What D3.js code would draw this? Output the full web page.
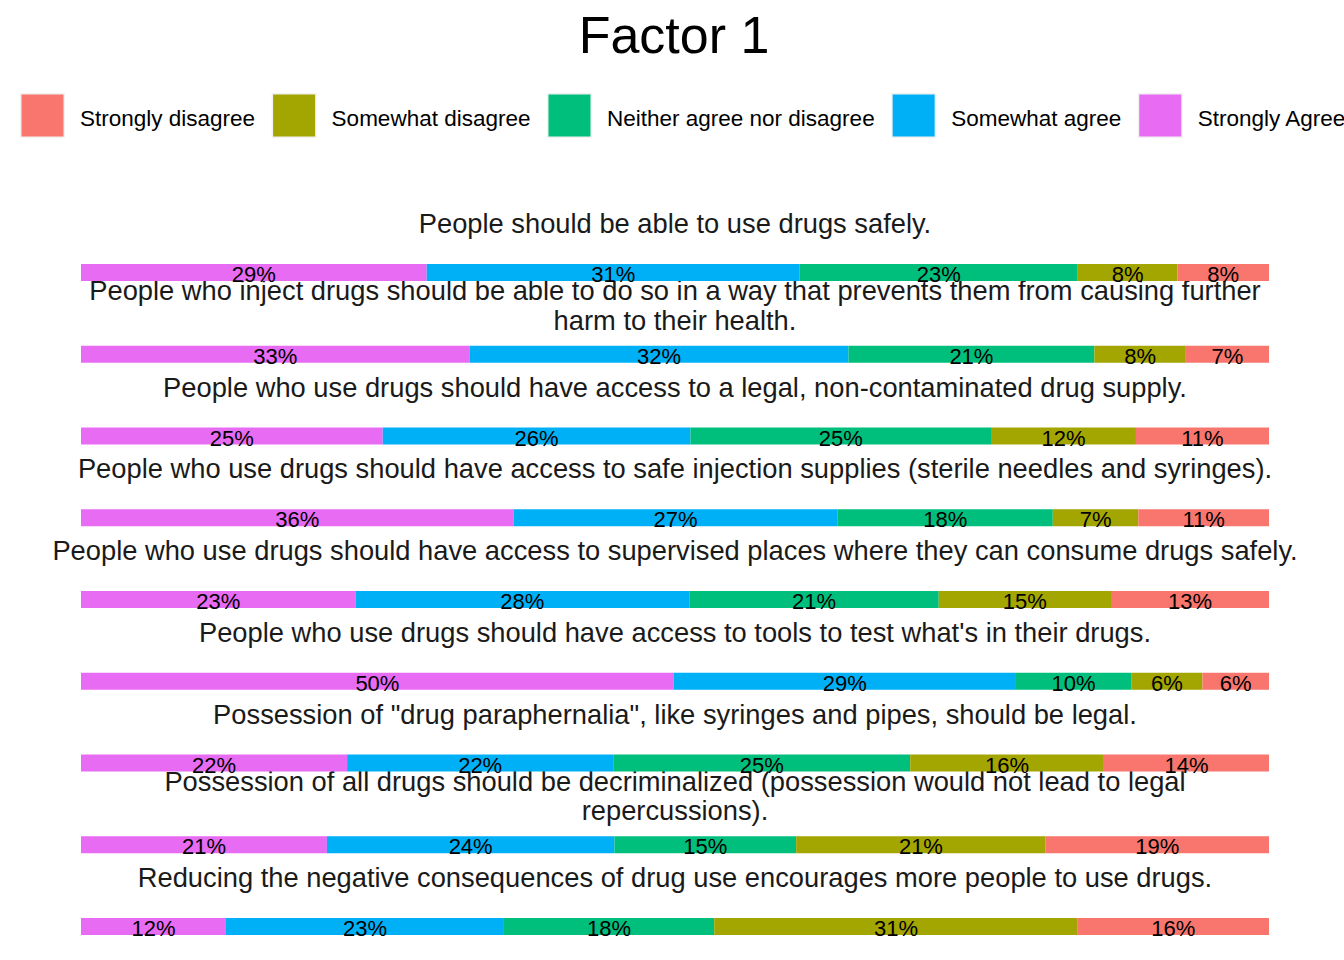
<!DOCTYPE html>
<html>
<head>
<meta charset="utf-8">
<script src="https://cdn.jsdelivr.net/npm/d3@7"></script>
<style>
  html, body { margin: 0; padding: 0; background: #ffffff; }
  svg { display: block; }
  text { font-family: "Liberation Sans", Arial, sans-serif; }
</style>
</head>
<body>
<svg id="chart" width="1344" height="960"></svg>
<script>
// ---------------- data ----------------
const chartTitle = "Factor 1";

const questions = [
  "People should be able to use drugs safely.",
  "People who inject drugs should be able to do so in a way that prevents them from causing further harm to their health.",
  "People who use drugs should have access to a legal, non-contaminated drug supply.",
  "People who use drugs should have access to safe injection supplies (sterile needles and syringes).",
  "People who use drugs should have access to supervised places where they can consume drugs safely.",
  "People who use drugs should have access to tools to test what's in their drugs.",
  "Possession of \"drug paraphernalia\", like syringes and pipes, should be legal.",
  "Possession of all drugs should be decriminalized (possession would not lead to legal repercussions).",
  "Reducing the negative consequences of drug use encourages more people to use drugs."
];

const levels = [
  "Strongly disagree",
  "Somewhat disagree",
  "Neither agree nor disagree",
  "Somewhat agree",
  "Strongly Agree"
];

const levelColors = ["#F8766D", "#A3A500", "#00BF7D", "#00B0F6", "#E76BF3"];

// percentages per response level, one value per question (same order as questions)
const stronglyAgree    = [29.1, 32.7, 25.4, 36.4, 23.1, 49.9, 22.4, 20.7, 12.2];
const somewhatAgree    = [31.4, 31.9, 25.9, 27.3, 28.1, 28.8, 22.4, 24.2, 23.4];
const neither          = [23.4, 20.7, 25.3, 18.1, 21.0,  9.7, 25.0, 15.3, 17.7];
const somewhatDisagree = [ 8.4,  7.7, 12.2,  7.2, 14.5,  6.0, 16.3, 21.0, 30.6];
const stronglyDisagree = [ 7.7,  7.0, 11.2, 11.0, 13.3,  5.6, 13.9, 18.8, 16.1];

// ---------------- build table ----------------
const table = questions.map((q, i) => ({
  question: q,
  "Strongly Agree": stronglyAgree[i],
  "Somewhat agree": somewhatAgree[i],
  "Neither agree nor disagree": neither[i],
  "Somewhat disagree": somewhatDisagree[i],
  "Strongly disagree": stronglyDisagree[i]
}));

// stacking order from left to right
const stackKeys = ["Strongly Agree", "Somewhat agree", "Neither agree nor disagree", "Somewhat disagree", "Strongly disagree"];
const color = d3.scaleOrdinal().domain(levels).range(levelColors);

const svg = d3.select("#chart");

// ---------------- scales ----------------
const x = d3.scaleLinear().domain([0, 100]).range([81, 1269]);
const y = d3.scaleBand().domain(questions).range([264, 264 + 81.75 * questions.length]).paddingInner(0).paddingOuter(0);
const barH = 17;

// ---------------- title ----------------
svg.append("text")
  .attr("x", 674).attr("y", 53)
  .attr("text-anchor", "middle")
  .attr("font-size", 52)
  .attr("fill", "#000")
  .text(chartTitle);

// ---------------- legend ----------------
const legend = svg.append("g").attr("class", "legend");
let lx = 20;
const keySize = 45;
levels.forEach((lv) => {
  const g = legend.append("g").attr("transform", `translate(${lx},93)`);
  g.append("rect").attr("x", 0).attr("y", 0).attr("width", keySize).attr("height", keySize).attr("fill", "#F2F2F2");
  g.append("rect").attr("x", 1.5).attr("y", 1.5).attr("width", keySize - 3).attr("height", keySize - 3).attr("fill", color(lv));
  const t = g.append("text")
    .attr("x", keySize + 15).attr("y", 33)
    .attr("font-size", 22.5)
    .attr("fill", "#000")
    .text(lv);
  const tw = t.node().getComputedTextLength();
  lx += keySize + 15 + tw + 16.5;
});

// ---------------- facet titles ----------------
function wrap(str, width) {
  const words = str.split(" ");
  const lines = [];
  let cur = "";
  words.forEach(w => {
    if (cur === "") cur = w;
    else if ((cur + " " + w).length <= width) cur += " " + w;
    else { lines.push(cur); cur = w; }
  });
  if (cur) lines.push(cur);
  return lines;
}

const lineH = 29.5;
const strips = svg.append("g").attr("class", "strips");
questions.forEach(q => {
  const lines = wrap(q, 99);
  const base = y(q) - 31;
  const t = strips.append("text")
    .attr("text-anchor", "middle")
    .attr("font-size", 27.3)
    .attr("fill", "#1A1A1A");
  lines.forEach((ln, i) => {
    t.append("tspan")
      .attr("x", 675)
      .attr("y", base + (i - (lines.length - 1) / 2) * lineH)
      .text(ln);
  });
});

// ---------------- bars ----------------
const series = d3.stack().keys(stackKeys)(table);

const barsG = svg.append("g").attr("class", "bars");
series.forEach(s => {
  barsG.selectAll(null)
    .data(s)
    .join("rect")
    .attr("x", d => x(d[0]))
    .attr("width", d => x(d[1]) - x(d[0]))
    .attr("y", d => y(d.data.question))
    .attr("height", barH)
    .attr("fill", color(s.key));
});

// ---------------- labels ----------------
const labG = svg.append("g").attr("class", "labels");
series.forEach(s => {
  labG.selectAll(null)
    .data(s)
    .join("text")
    .attr("x", d => x((d[0] + d[1]) / 2))
    .attr("y", d => y(d.data.question) + barH + 1)
    .attr("text-anchor", "middle")
    .attr("font-size", 22)
    .attr("fill", "#000")
    .text(d => Math.round(d[1] - d[0]) + "%");
});
</script>
</body>
</html>
